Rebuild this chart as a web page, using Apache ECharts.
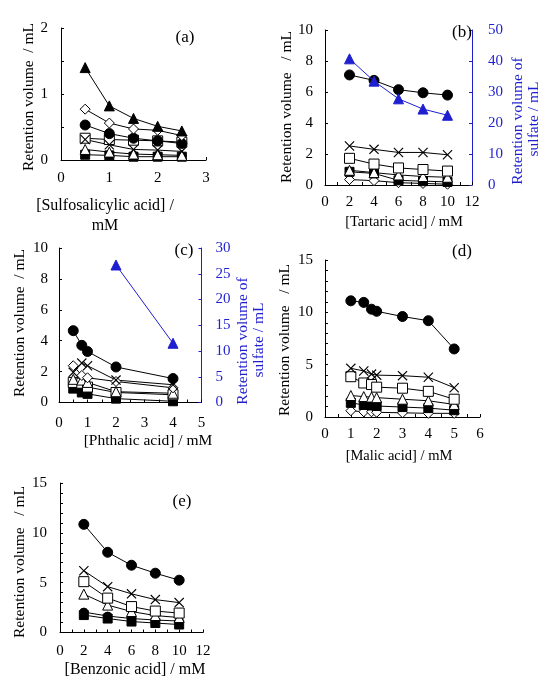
<!DOCTYPE html>
<html><head><meta charset="utf-8">
<script src="https://cdn.jsdelivr.net/npm/echarts@6/dist/echarts.min.js"></script>
<style>html,body{margin:0;padding:0;background:#fff}#c{width:549px;height:683px}</style>
</head><body><div id="c"></div>
<script>
// ---- Data ----
// (a) Sulfosalicylic acid
const xA = [0.5, 1, 1.5, 2, 2.5];
const aFilledTri = [1.40, 0.82, 0.63, 0.51, 0.44];
const aDiamond = [0.77, 0.56, 0.47, 0.45, 0.37];
const aCircle = [0.53, 0.40, 0.33, 0.29, 0.25];
const aSquare = [0.33, 0.31, 0.30, 0.29, 0.27];
const aCross = [0.31, 0.23, 0.16, 0.15, 0.13];
const aTriangle = [0.16, 0.12, 0.09, 0.08, 0.07];
const aFilledSq = [0.08, 0.07, 0.05, 0.05, 0.05];
// (b) Tartaric acid
const xB = [2, 4, 6, 8, 10];
const bCircle = [7.1, 6.75, 6.15, 5.95, 5.8];
const bSulfate = [40.7, 33.5, 27.8, 24.5, 22.5];
const bCross = [2.52, 2.3, 2.1, 2.1, 1.95];
const bSquare = [1.72, 1.35, 1.1, 1.0, 0.9];
const bTriangle = [0.95, 0.8, 0.65, 0.55, 0.5];
const bFilledSq = [0.85, 0.75, 0.3, 0.25, 0.2];
const bDiamond = [0.35, 0.28, 0.15, 0.1, 0.05];
// (c) Phthalic acid
const xC = [0.5, 0.8, 1, 2, 4];
const xCsulfate = [2, 4];
const cCircle = [4.65, 3.7, 3.3, 2.3, 1.55];
const cCross = [1.95, 2.55, 2.38, 1.45, 1.15];
const cDiamond = [2.38, 1.75, 1.6, 1.36, 0.95];
const cTriangle = [1.5, 1.45, 1.3, 0.7, 0.6];
const cSquare = [1.3, 1.25, 1.0, 0.65, 0.5];
const cFilledSq = [0.9, 0.65, 0.56, 0.25, 0.08];
const cSulfate = [26.7, 11.5];
// (d) Malic acid
const xD = [1, 1.5, 1.8, 2, 3, 4, 5];
const dCircle = [11.1, 10.95, 10.3, 10.1, 9.6, 9.2, 6.5];
const dCross = [4.65, 4.4, 4.1, 4.0, 3.95, 3.8, 2.8];
const dSquare = [3.85, 3.25, 3.1, 2.85, 2.75, 2.45, 1.7];
const dTriangle = [2.05, 1.95, 1.9, 1.85, 1.7, 1.55, 1.2];
const dFilledSq = [1.35, 1.15, 1.1, 1.05, 0.95, 0.85, 0.65];
const dDiamond = [0.6, 0.5, 0.5, 0.45, 0.4, 0.35, 0.35];
// (e) Benzonic acid
const xE = [2, 4, 6, 8, 10];
const eCircle = [10.85, 8.05, 6.75, 5.95, 5.25];
const eCross = [6.2, 4.6, 3.88, 3.3, 3.0];
const eSquare = [5.1, 3.45, 2.6, 2.15, 1.95];
const eTriangle = [3.85, 2.75, 2.1, 1.7, 1.5];
const eSmallCircle = [2.05, 1.65, 1.4, 1.25, 1.15];
const eFilledSq = [1.75, 1.4, 1.1, 0.95, 0.8];

// ---- Chart ----
const FONT = 'Liberation Serif';
const BLUE = '#1f1fd0';
const CROSS = 'path://M0,0.8L0.8,0L5,4.2L9.2,0L10,0.8L5.8,5L10,9.2L9.2,10L5,5.8L0.8,10L0,9.2L4.2,5Z';
const MK = {
  fcircle: {symbol: 'circle', size: 10, fill: '#000'},
  scircle: {symbol: 'circle', size: 8, fill: '#000'},
  diamond: {symbol: 'diamond', size: 10, fill: '#fff'},
  square: {symbol: 'rect', size: 10, fill: '#fff'},
  fsquare: {symbol: 'rect', size: 9, fill: '#000'},
  triangle: {symbol: 'triangle', size: 10, fill: '#fff'},
  ftriangle: {symbol: 'triangle', size: 10, fill: '#000'},
  cross: {symbol: CROSS, size: 10, fill: '#000', noBorder: true}
};
const series = [];
function addSeries(gi, xs, ys, mk, opts) {
  opts = opts || {};
  const m = MK[mk];
  const col = opts.color || '#000';
  series.push({
    type: 'line', xAxisIndex: gi, yAxisIndex: opts.yIndex !== undefined ? opts.yIndex : gi,
    data: xs.map((x, i) => [x, ys[i]]),
    symbol: m.symbol, symbolSize: m.size, showAllSymbol: true,
    lineStyle: {color: col, width: 1},
    itemStyle: {color: m.fill === '#000' ? col : m.fill, borderColor: col, borderWidth: m.noBorder ? 0 : 1},
    emphasis: {disabled: true}, silent: true, animation: false, z: opts.z || 2
  });
}
const isInt = v => Math.abs(v - Math.round(v)) < 1e-9;
function xAx(gi, max, interval, labelEvery, size, margin) {
  return {
    type: 'value', gridIndex: gi, min: 0, max: max, interval: interval,
    axisLine: {lineStyle: {color: '#000', width: 1}, onZero: false},
    axisTick: {inside: true, length: 3, lineStyle: {color: '#000'}},
    splitLine: {show: false},
    axisLabel: {color: '#000', fontFamily: FONT, fontSize: size, margin: margin,
      formatter: v => (isInt(v / labelEvery) ? String(Math.round(v)) : '')}
  };
}
function yAx(gi, max, interval, labelEvery, size, margin, right, color) {
  color = color || '#000';
  return {
    type: 'value', gridIndex: gi, min: 0, max: max, interval: interval, position: right ? 'right' : 'left',
    axisLine: {show: true, lineStyle: {color: color, width: 1}, onZero: false},
    axisTick: {show: true, inside: true, length: 3, lineStyle: {color: color}},
    splitLine: {show: false},
    axisLabel: {color: color, fontFamily: FONT, fontSize: size, margin: margin,
      formatter: v => (isInt(v / labelEvery) ? String(Math.round(v)) : '')}
  };
}
const grids = [
  {left: 61, top: 28, width: 145, height: 132},
  {left: 325, top: 30, width: 147, height: 155},
  {left: 59, top: 248, width: 142.5, height: 154.5},
  {left: 325, top: 260, width: 155, height: 157},
  {left: 60, top: 483, width: 143, height: 149.5}
];
const xAxes = [
  xAx(0, 3, 1, 1, 15, 11),
  xAx(1, 12, 1, 2, 15, 10),
  xAx(2, 5, 0.5, 1, 15, 13),
  xAx(3, 6, 0.5, 1, 15, 10),
  xAx(4, 12, 1, 2, 15, 11)
];
const yAxes = [
  yAx(0, 2, 0.5, 1, 15, 13),
  yAx(1, 10, 2, 2, 15, 12),
  yAx(2, 10, 2, 2, 15, 11),
  yAx(3, 15, 1, 5, 15, 12),
  yAx(4, 15, 1, 5, 15, 13),
  yAx(1, 50, 10, 10, 15, 16, true, BLUE),
  yAx(2, 30, 5, 5, 15, 14, true, BLUE)
];

// (a)
addSeries(0, xA, aFilledSq, 'fsquare');
addSeries(0, xA, aTriangle, 'triangle');
addSeries(0, xA, aSquare, 'square');
addSeries(0, xA, aCross, 'cross');
addSeries(0, xA, aCircle, 'fcircle');
addSeries(0, xA, aDiamond, 'diamond');
addSeries(0, xA, aFilledTri, 'ftriangle');
// (b)
addSeries(1, xB, bDiamond, 'diamond');
addSeries(1, xB, bFilledSq, 'fsquare');
addSeries(1, xB, bTriangle, 'triangle');
addSeries(1, xB, bSquare, 'square');
addSeries(1, xB, bCross, 'cross');
addSeries(1, xB, bCircle, 'fcircle');
addSeries(1, xB, bSulfate, 'ftriangle', {yIndex: 5, color: BLUE, z: 3});
// (c)
addSeries(2, xC, cFilledSq, 'fsquare');
addSeries(2, xC, cSquare, 'square');
addSeries(2, xC, cTriangle, 'triangle');
addSeries(2, xC, cDiamond, 'diamond');
addSeries(2, xC, cCross, 'cross');
addSeries(2, xC, cCircle, 'fcircle');
addSeries(2, xCsulfate, cSulfate, 'ftriangle', {yIndex: 6, color: BLUE, z: 3});
// (d)
addSeries(3, xD, dDiamond, 'diamond');
addSeries(3, xD, dFilledSq, 'fsquare');
addSeries(3, xD, dTriangle, 'triangle');
addSeries(3, xD, dSquare, 'square');
addSeries(3, xD, dCross, 'cross');
addSeries(3, xD, dCircle, 'fcircle');
// (e)
addSeries(4, xE, eFilledSq, 'fsquare');
addSeries(4, xE, eSmallCircle, 'scircle');
addSeries(4, xE, eTriangle, 'triangle');
addSeries(4, xE, eSquare, 'square');
addSeries(4, xE, eCross, 'cross');
addSeries(4, xE, eCircle, 'fcircle');

function txt(text, x, y, opts) {
  opts = opts || {};
  return {
    type: 'text', x: x, y: y, rotation: opts.rot ? Math.PI / 2 : 0, silent: true, z: 10,
    style: {text: text, fill: opts.color || '#000', font: (opts.size || 15) + 'px "' + FONT + '"',
      textAlign: 'center', textVerticalAlign: 'middle'}
  };
}
const graphics = [
  txt('(a)', 185, 38, {size: 17}),
  txt('(b)', 462, 33, {size: 17}),
  txt('(c)', 184, 251, {size: 17}),
  txt('(d)', 462, 252, {size: 17}),
  txt('(e)', 182, 502, {size: 17}),
  // axis titles
  txt('Retention volume  / mL', 29, 97, {rot: true, size: 15.5}),
  txt('[Sulfosalicylic acid] /', 105, 206, {size: 16}),
  txt('mM', 105, 226, {size: 16}),
  txt('Retention volume   / mL', 287, 107, {rot: true, size: 15.5}),
  txt('Retention volume of', 518, 121, {rot: true, color: BLUE, size: 15.5}),
  txt('sulfate / mL', 534, 119, {rot: true, color: BLUE, size: 15.5}),
  txt('[Tartaric acid] / mM', 404, 222, {size: 14.5}),
  txt('Retention volume  / mL', 20, 323, {rot: true, size: 15.5}),
  txt('Retention volume of', 243, 341, {rot: true, color: BLUE, size: 15.5}),
  txt('sulfate / mL', 259, 340, {rot: true, color: BLUE, size: 15.5}),
  txt('[Phthalic acid] / mM', 148, 441, {size: 15.5}),
  txt('Retention volume   / mL', 285, 340, {rot: true, size: 15.5}),
  txt('[Malic acid] / mM', 399, 456, {size: 14.5}),
  txt('Retention volume   / mL', 20, 562, {rot: true, size: 15.5}),
  txt('[Benzonic acid] / mM', 135, 670, {size: 16})
];

const chart = echarts.init(document.getElementById('c'), null, {renderer: 'canvas'});
chart.setOption({
  animation: false,
  backgroundColor: '#fff',
  textStyle: {fontFamily: FONT},
  grid: grids,
  xAxis: xAxes,
  yAxis: yAxes,
  series: series,
  graphic: graphics
});
</script>
</body></html>
